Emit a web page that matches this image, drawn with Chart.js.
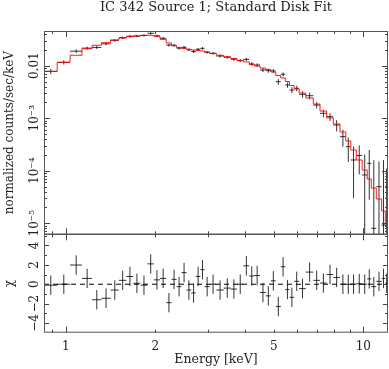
<!DOCTYPE html>
<html>
<head>
<meta charset="utf-8">
<script src="https://cdn.jsdelivr.net/npm/chart.js@4.4.0/dist/chart.umd.min.js"></script>
<style>
  html, body { margin: 0; padding: 0; background: #fff; }
  #wrap { width: 389px; height: 369px; }
</style>
</head>
<body>
<div id="wrap"><canvas id="spec" width="389" height="369"></canvas></div>
<script>
'use strict';

// DATA
// energy bin edges in keV, one more than the number of bins
let binEdges = [0.845, 0.936, 1.034, 1.134, 1.226, 1.317, 1.415, 1.508, 1.599, 1.688,
  1.781, 1.883, 1.977, 2.074, 2.176, 2.268, 2.357, 2.450, 2.547, 2.641,
  2.737, 2.834, 2.927, 3.047, 3.207, 3.396, 3.585, 3.763, 3.954, 4.138,
  4.300, 4.497, 4.704, 4.889, 5.082, 5.282, 5.469, 5.650, 5.859, 6.090,
  6.409, 6.793, 7.154, 7.534, 7.929, 8.350, 8.734, 9.078, 9.473, 9.915,
  10.31, 10.64, 11.06, 11.53, 11.86, 12.11];

// normalized counts/sec/keV
let counts = [0.0078, 0.0116, 0.0189, 0.0216, 0.0223, 0.0261, 0.0304, 0.0341, 0.0364, 0.0368,
  0.0377, 0.0414, 0.0370, 0.0333, 0.0247, 0.0245, 0.0216, 0.0224, 0.0201, 0.0186,
  0.0206, 0.0214, 0.0180, 0.0172, 0.0153, 0.0145, 0.0133, 0.0125, 0.0132, 0.0108,
  0.0103, 0.00828, 0.00803, 0.00793, 0.00496, 0.00686, 0.00429, 0.00344, 0.00371, 0.00285,
  0.00268, 0.00178, 0.00124, 0.00107, 0.00074, 0.000445, 0.000287, 0.00016, 0.000195, 0.000083,
  0.000138, 0.000008, 0.0000496, 0.0000092, 0.00005];

let countErr = [0.0009, 0.0011, 0.0015, 0.0015, 0.0015, 0.0016, 0.0018, 0.0019, 0.002, 0.002,
  0.002, 0.0021, 0.002, 0.0019, 0.0015, 0.0015, 0.0013, 0.0013, 0.0012, 0.0012,
  0.0012, 0.0012, 0.0011, 0.0011, 0.0010, 0.0010, 0.0009, 0.0009, 0.0009, 0.0008,
  0.0008, 0.0007, 0.0007, 0.0007, 0.0006, 0.0006, 0.0005, 0.00045, 0.00045, 0.0004,
  0.0004, 0.00025, 0.0002, 0.00018, 0.00018, 0.00016, 0.00014, 0.00013, 0.00011, 0.00012,
  0.00011, 0.00015, 0.0001, 0.00015, 0.00006];

// folded disk model
let modelCounts = [0.00781, 0.0116, 0.0158, 0.0211, 0.0245, 0.0274, 0.0309, 0.0337, 0.0357, 0.0368,
  0.0379, 0.0379, 0.0363, 0.0318, 0.0271, 0.0240, 0.0222, 0.0213, 0.0206, 0.0199,
  0.0195, 0.0191, 0.0182, 0.0171, 0.0158, 0.0148, 0.0137, 0.0126, 0.0118, 0.0105,
  0.00987, 0.00904, 0.00846, 0.00759, 0.00651, 0.00583, 0.0050, 0.0042, 0.0036, 0.00302,
  0.00243, 0.00186, 0.00137, 0.00101, 0.000776, 0.000546, 0.000368, 0.000248, 0.00016, 0.000103,
  0.0000695, 0.0000468, 0.0000289, 0.0000171, 0.00000885];

// residuals (data - model) / error
let chi = [-0.1, 0, 1.98, 0.6, -1.6, -1.45, -0.6, 0.4, 0.8, 0.1,
  -0.1, 2.1, 0.45, 0.6, -1.9, 0.5, -0.25, 1.2, -0.6, -0.9,
  0.8, 1.5, -0.25, 0, -0.6, -0.4, -0.5, 0, 1.9, 0.85,
  0.9, -0.85, -1.2, 0.35, -2.3, 1.8, -0.55, -1.35, 0.3, -0.45,
  1.25, 0.4, 0.12, 1.0, 0.7, 0, 0, 0, 0.05, 0,
  0.55, -0.25, 0.3, 0.6, 0.1];

let energyTicks = [1, 2, 5, 10];
let countTicks = [1e-2, 1e-3, 1e-4, 1e-5];
let chiTicks = [-4, -2, 0, 2, 4];

const X_MIN = 0.845, X_MAX = 12.11;
const Y_MIN = 6.15e-6, Y_MAX = 0.0458;
const CHI_MIN = -5, CHI_MAX = 5.15;

const FONT = 'DejaVu Serif';
const INK = '#222';

// HELPERS
const SUP = {'-': '\u207B', '0': '\u2070', '1': '\u00B9', '2': '\u00B2', '3': '\u00B3',
  '4': '\u2074', '5': '\u2075', '6': '\u2076', '7': '\u2077', '8': '\u2078', '9': '\u2079'};

function powerLabel(v){
  if (v === 0.01) return '0.01';
  let exp = String(Math.round(Math.log10(v)));
  return '10' + exp.split('').map(c => SUP[c]).join('');
}

// one cross per bin: horizontal = bin width, vertical = error bar
function crossPoints(vals, errs, floor){
  let pts = [];
  for (let i = 0; i < vals.length; i++) {
    let lo = binEdges[i];
    let hi = binEdges[i + 1];
    let mid = (lo + hi) / 2;
    let e = Array.isArray(errs) ? errs[i] : errs;
    pts.push({x: lo, y: vals[i]}, {x: hi, y: vals[i]}, {x: mid, y: null});
    pts.push({x: mid, y: Math.max(vals[i] - e, floor)}, {x: mid, y: vals[i] + e}, {x: mid, y: null});
  }
  return pts;
}

function stepPoints(vals){
  let pts = vals.map((v, i) => ({x: binEdges[i], y: v}));
  pts.push({x: binEdges[vals.length], y: vals[vals.length - 1]});
  return pts;
}

// inside ticks + panel frames, placed with the chart's own scales
const frameTicks = {
  id: 'frameTicks',
  afterDatasetsDraw(chart){
    const ctx = chart.ctx;
    const xs = chart.scales.x;
    const yf = chart.scales.yFlux;
    const yr = chart.scales.yRes;
    const L = xs.left, R = xs.right;

    ctx.save();
    ctx.strokeStyle = '#444';
    ctx.lineWidth = 1;
    ctx.beginPath();

    // energy ticks on the top/bottom of both panels
    for (let dec = 0.1; dec <= 10; dec *= 10) {
      for (let m = 1; m <= 9; m++) {
        let v = m * dec;
        if (v < X_MIN || v > X_MAX) continue;
        let px = Math.round(xs.getPixelForValue(v)) + 0.5;
        let len = m === 1 ? 6 : 3;
        [yf.top, yr.top].forEach(t => { ctx.moveTo(px, t); ctx.lineTo(px, t + len); });
        [yf.bottom, yr.bottom].forEach(b => { ctx.moveTo(px, b); ctx.lineTo(px, b - len); });
      }
    }

    // log ticks on the flux panel
    for (let dec = 1e-6; dec <= 0.01; dec *= 10) {
      for (let m = 1; m <= 9; m++) {
        let v = m * dec;
        if (v < Y_MIN || v > Y_MAX) continue;
        let py = Math.round(yf.getPixelForValue(v)) + 0.5;
        let len = m === 1 ? 6 : 3;
        ctx.moveTo(L, py); ctx.lineTo(L + len, py);
        ctx.moveTo(R, py); ctx.lineTo(R - len, py);
      }
    }

    // chi ticks
    for (let v = -4; v <= 5; v++) {
      let py = Math.round(yr.getPixelForValue(v)) + 0.5;
      let len = v % 2 === 0 ? 5 : 3;
      ctx.moveTo(L, py); ctx.lineTo(L + len, py);
      ctx.moveTo(R, py); ctx.lineTo(R - len, py);
    }
    ctx.stroke();

    // frames
    ctx.strokeStyle = '#555';
    ctx.strokeRect(L + 0.5, yf.top + 0.5, R - L - 1, yr.bottom - yf.top - 1);
    ctx.lineWidth = 1.6;
    ctx.beginPath();
    ctx.moveTo(L, yf.bottom);
    ctx.lineTo(R, yf.bottom);
    ctx.stroke();
    ctx.restore();
  }
};

// CHART
let ctx = document.getElementById('spec');

let spectrumChart = new Chart(ctx, {
  type: 'line',
  data: {
    datasets: [
      {
        label: 'model',
        data: stepPoints(modelCounts),
        yAxisID: 'yFlux',
        stepped: 'before',
        borderColor: 'rgba(255,0,0,0.9)',
        borderWidth: 1,
        pointRadius: 0
      },
      {
        label: 'data',
        data: crossPoints(counts, countErr, Y_MIN),
        yAxisID: 'yFlux',
        borderColor: 'rgba(0,0,0,0.8)',
        borderWidth: 1,
        pointRadius: 0,
        spanGaps: false
      },
      {
        label: 'zero',
        data: [{x: X_MIN, y: 0}, {x: X_MAX, y: 0}],
        yAxisID: 'yRes',
        borderColor: '#000',
        borderWidth: 1,
        borderDash: [5, 4],
        pointRadius: 0
      },
      {
        label: 'residuals',
        data: crossPoints(chi, 1, CHI_MIN),
        yAxisID: 'yRes',
        borderColor: 'rgba(0,0,0,0.8)',
        borderWidth: 1,
        pointRadius: 0,
        spanGaps: false
      }
    ]
  },
  options: {
    responsive: false,
    animation: false,
    devicePixelRatio: 1,
    events: [],
    layout: { padding: { left: 0, right: 1, top: 0, bottom: 0 } },
    plugins: {
      legend: { display: false },
      tooltip: { enabled: false },
      title: {
        display: true,
        fullSize: false,
        text: 'IC 342 Source 1; Standard Disk Fit',
        color: INK,
        font: { family: FONT, size: 13, weight: 'normal', lineHeight: 1.2 },
        padding: { top: 0, bottom: 15.4 }
      }
    },
    scales: {
      x: {
        type: 'logarithmic',
        min: X_MIN,
        max: X_MAX,
        grid: { display: false },
        border: { display: false },
        afterBuildTicks: (ax) => { ax.ticks = energyTicks.map(v => ({value: v})); },
        afterFit: (ax) => { ax.height = 36.3; },
        ticks: {
          autoSkip: false,
          maxRotation: 0,
          padding: -1,
          color: INK,
          font: { family: FONT, size: 12 },
          callback: (v) => String(v)
        },
        title: {
          display: true,
          text: 'Energy [keV]',
          color: INK,
          font: { family: FONT, size: 12.5, lineHeight: 1.2 },
          padding: { top: 0, bottom: 1.5 }
        }
      },
      yRes: {
        type: 'linear',
        position: 'left',
        stack: 'panels',
        stackWeight: 1,
        min: CHI_MIN,
        max: CHI_MAX,
        grid: { display: false },
        border: { display: false },
        afterBuildTicks: (ax) => { ax.ticks = chiTicks.map(v => ({value: v})); },
        afterFit: (ax) => { ax.width = 44; },
        ticks: {
          autoSkip: false,
          minRotation: 90,
          maxRotation: 90,
          crossAlign: 'center',
          padding: -8,
          color: INK,
          font: { family: FONT, size: 12 },
          callback: (v) => v < 0 ? '\u2212' + Math.abs(v) : String(v)
        },
        title: {
          display: true,
          text: '\u03C7',
          color: INK,
          font: { family: FONT, size: 12, lineHeight: 1.2 },
          padding: { top: 2.8, bottom: 0 }
        }
      },
      yFlux: {
        type: 'logarithmic',
        position: 'left',
        stack: 'panels',
        stackWeight: 2.066,
        min: Y_MIN,
        max: Y_MAX,
        grid: { display: false },
        border: { display: false },
        afterBuildTicks: (ax) => { ax.ticks = countTicks.map(v => ({value: v})); },
        afterFit: (ax) => { ax.width = 44; },
        ticks: {
          autoSkip: false,
          minRotation: 90,
          maxRotation: 90,
          crossAlign: 'center',
          padding: -12.5,
          color: INK,
          font: { family: FONT, size: 12 },
          callback: (v) => powerLabel(v)
        },
        title: {
          display: true,
          text: 'normalized counts/sec/keV',
          color: INK,
          font: { family: FONT, size: 12, lineHeight: 1.2 },
          padding: { top: 2.8, bottom: 0 }
        }
      }
    }
  },
  plugins: [frameTicks]
});
</script>
</body>
</html>
